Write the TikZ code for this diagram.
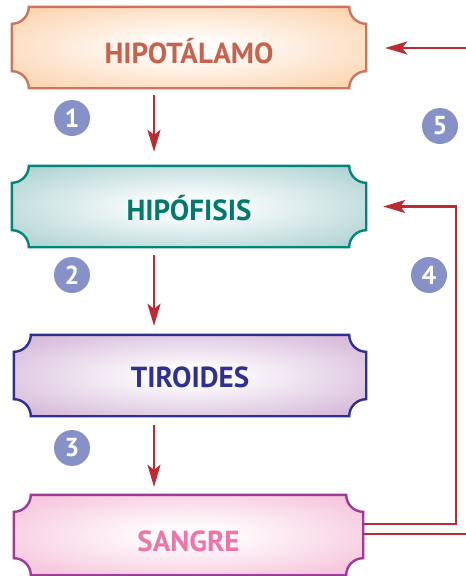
\documentclass[tikz,border=0pt]{standalone}
\usepackage{fontspec}
\setmainfont{PT Sans}
\usetikzlibrary{arrows.meta,calc,backgrounds}
\definecolor{arrred}{HTML}{BC2A32}
\definecolor{circblue}{HTML}{8591C7}
\definecolor{hipoS}{HTML}{D0735C}\definecolor{hipoF}{HTML}{FBC390}\definecolor{hipoT}{HTML}{C8624D}
\definecolor{hifS}{HTML}{00857C}\definecolor{hifF}{HTML}{8FC2C0}\definecolor{hifT}{HTML}{00796E}
\definecolor{tirS}{HTML}{2F3192}\definecolor{tirF}{HTML}{C59CCA}\definecolor{tirT}{HTML}{2E3192}
\definecolor{sanS}{HTML}{9E3A98}\definecolor{sanF}{HTML}{F2ABCC}\definecolor{sanT}{HTML}{EF74A8}
\colorlet{plaqin}{white}\colorlet{plaqout}{hipoF}
\pgfdeclareradialshading[plaqin,plaqout]{plaq}{\pgfpoint{0bp}{0bp}}{color(0bp)=(plaqin); color(6bp)=(plaqin); color(44bp)=(plaqout); color(50bp)=(plaqout)}
\newcommand\plaquebox[3]{%
  \colorlet{plaqin}{#3!5!white}\colorlet{plaqout}{#3}%
  \path[draw=#2,line width=2.4pt,shading=plaq]
    ($(#1.north west)+(17,0)$) -- ($(#1.north east)+(-17,0)$)
    arc[start angle=180,end angle=270,radius=17]
    -- ($(#1.south east)+(0,17)$)
    arc[start angle=90,end angle=180,radius=17]
    -- ($(#1.south west)+(17,0)$)
    arc[start angle=0,end angle=90,radius=17]
    -- ($(#1.north west)+(0,-17)$)
    arc[start angle=270,end angle=360,radius=17] -- cycle;}
\begin{document}
\begin{tikzpicture}[x=1pt,y=1pt,
  plaque/.style={minimum height=81pt,inner sep=0pt,text depth=0pt,font=\fontsize{29}{31}\selectfont\bfseries},
  num/.style={circle,fill=circblue,minimum size=36pt,inner sep=0pt,text=white,font=\fontsize{26}{28}\selectfont\bfseries},
  arr/.style={draw=arrred,line width=2.2pt,-{Stealth[length=22pt,width=13pt,inset=5pt]}},
  ln/.style={draw=arrred,line width=2.2pt}]
\useasboundingbox (0,0) rectangle (466,-576);
\node[plaque,minimum width=354pt,text height=32pt,text=hipoT] (hipo) at (189,-47.5) {HIPOTÁLAMO};
\node[plaque,minimum width=354pt,text height=27pt,text=hifT] (hipof) at (189,-206.5) {HIPÓFISIS};
\node[plaque,minimum width=352pt,text height=24pt,text=tirT] (tir) at (190,-375.5) {TIROIDES};
\node[plaque,minimum width=349pt,minimum height=80pt,text height=32pt,text=sanT] (san) at (188.5,-535) {SANGRE};
\begin{scope}[on background layer]
\plaquebox{hipo}{hipoS}{hipoF}
\plaquebox{hipof}{hifS}{hifF}
\plaquebox{tir}{tirS}{tirF}
\plaquebox{san}{sanS}{sanF}
\end{scope}
\node[num] (n1) at (72,-118) {1};
\node[num] (n2) at (72,-275) {2};
\node[num] (n3) at (72,-448) {3};
\node[num] (n4) at (429,-275) {4};
\node[num] (n5) at (440,-126) {5};
\coordinate (ax) at (154,0);
\draw[arr,shorten <=7pt,shorten >=14pt] (hipo.south -| ax) -- (hipof.north -| ax);
\draw[arr,shorten <=8pt,shorten >=9pt] (hipof.south -| ax) -- (tir.north -| ax);
\draw[arr,shorten <=9pt,shorten >=8pt] (tir.south -| ax) -- (san.north -| ax);
\coordinate (f4) at (456,-524);
\coordinate (f4t) at (456,-206.5);
\draw[arr,shorten >=17pt] (san.east |- f4) -- (f4) -- (f4t) -- (hipof.east);
\coordinate (e1) at (467,-534);
\draw[ln] (san.east |- e1) -- (e1);
\coordinate (e2) at (467,-48);
\draw[arr,shorten >=19pt] (e2) -- (hipo.east |- e2);
\end{tikzpicture}
\end{document}
